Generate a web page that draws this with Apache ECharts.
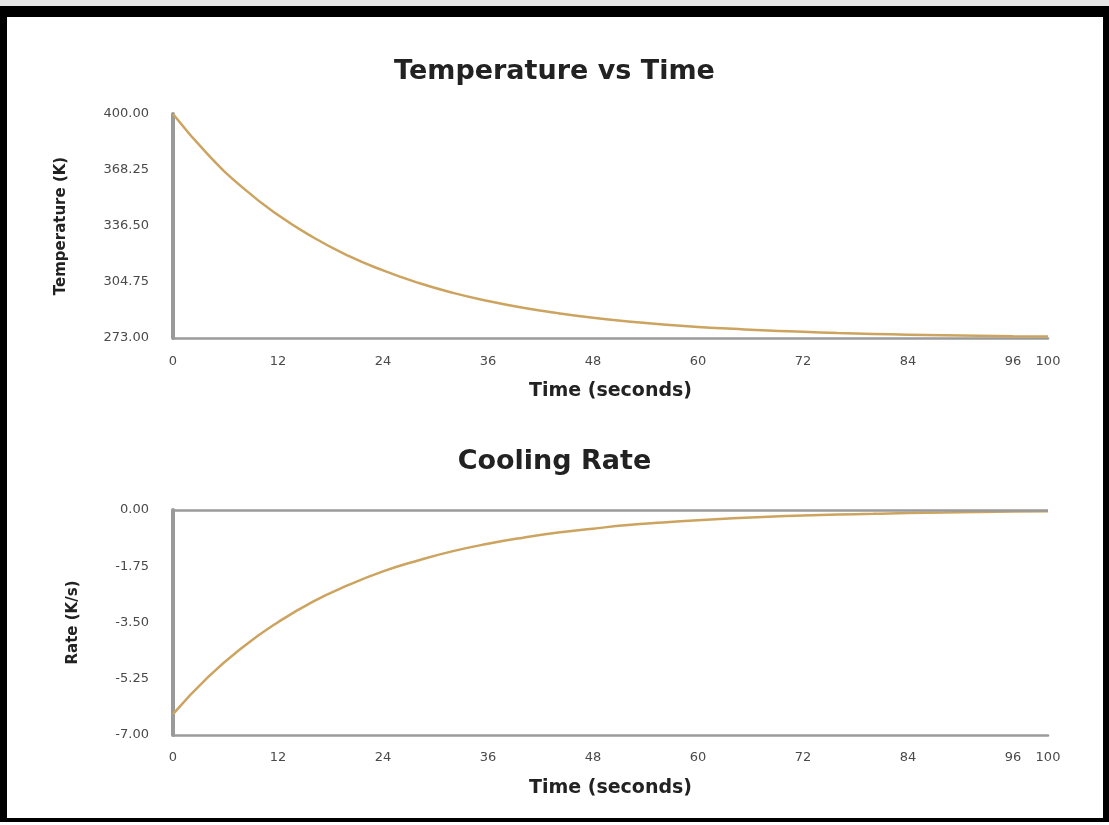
<!DOCTYPE html>
<html>
<head>
<meta charset="utf-8">
<script src="https://cdn.jsdelivr.net/npm/echarts@6/dist/echarts.min.js"></script>
<style>
  html, body { margin: 0; padding: 0; background: #ffffff; }
  #chart { position: absolute; left: 0; top: 0; width: 1109px; height: 825px; }
  #frame { position: absolute; left: 0; top: 6px; width: 1096px; height: 801px;
           border-style: solid; border-color: #000; border-width: 11px 6px 4px 7px; pointer-events: none; }
  #topstrip { position: absolute; left: 0; top: 0; width: 1109px; height: 6px; background: #e6e6e6; }
</style>
</head>
<body>
<div id="chart"></div>
<div id="topstrip"></div>
<div id="frame"></div>
<script>
// ---- data ----
const timeSeconds = [0, 4, 8, 12, 16, 20, 24, 28, 32, 36, 40, 44, 48, 52, 56, 60, 64, 68, 72, 76, 80, 84, 88, 92, 96, 100];
const temperatureK = [400.0, 377.0, 358.1, 342.7, 330.1, 319.7, 311.3, 304.3, 298.6, 294.0, 290.2, 287.1, 284.5, 282.4, 280.7, 279.3, 278.2, 277.2, 276.5, 275.8, 275.3, 274.9, 274.6, 274.3, 274.0, 273.9];
const coolingRate = [-6.35, -5.20, -4.26, -3.49, -2.85, -2.34, -1.91, -1.57, -1.28, -1.05, -0.86, -0.70, -0.58, -0.47, -0.39, -0.32, -0.26, -0.21, -0.17, -0.14, -0.12, -0.09, -0.08, -0.06, -0.05, -0.04];
const timeTicks = [0, 12, 24, 36, 48, 60, 72, 84, 96, 100];
const tempTicks = [273.00, 304.75, 336.50, 368.25, 400.00];
const rateTicks = [-7.00, -5.25, -3.50, -1.75, 0.00];

const FONT = 'DejaVu Sans';
const LINE = '#cca460';
const AXIS = '#9a9a9a';
const LABEL = '#4a4a4a';

function xAxisCfg(gridIndex, labelMargin, nameGap) {
  return {
    type: 'value', gridIndex, min: 0, max: 100,
    name: 'Time (seconds)', nameLocation: 'middle', nameGap,
    nameTextStyle: { fontFamily: FONT, fontWeight: 'bold', fontSize: 19, color: '#222' },
    axisLine: { show: true, onZero: false, lineStyle: { color: AXIS, width: 2.5 } },
    axisTick: { show: false },
    splitLine: { show: false },
    axisLabel: { customValues: timeTicks, margin: labelMargin, fontFamily: FONT, fontSize: 13, color: LABEL }
  };
}
function yAxisCfg(gridIndex, min, max, ticks, name, nameGap) {
  return {
    type: 'value', gridIndex, min, max,
    name, nameLocation: 'middle', nameGap,
    nameTextStyle: { fontFamily: FONT, fontWeight: 'bold', fontSize: 15, color: '#222' },
    axisLine: { show: true, lineStyle: { color: AXIS, width: 4 } },
    axisTick: { show: false },
    splitLine: { show: false },
    axisLabel: { customValues: ticks, margin: 24, fontFamily: FONT, fontSize: 13, color: LABEL,
                 formatter: v => Number(v).toFixed(2) }
  };
}

const chart = echarts.init(document.getElementById('chart'));
chart.setOption({
  animation: false,
  backgroundColor: '#ffffff',
  title: [
    { text: 'Temperature vs Time', left: 'center', top: 58, padding: 0,
      textStyle: { fontFamily: FONT, fontWeight: 'bold', fontSize: 27, color: '#222' } },
    { text: 'Cooling Rate', left: 'center', top: 448, padding: 0,
      textStyle: { fontFamily: FONT, fontWeight: 'bold', fontSize: 27, color: '#222' } }
  ],
  grid: [
    { left: 173, top: 114, width: 875, height: 224 },
    { left: 173, top: 510, width: 875, height: 225 }
  ],
  xAxis: [xAxisCfg(0, 17, 44), xAxisCfg(1, 16, 44)],
  yAxis: [
    yAxisCfg(0, 273, 400, tempTicks, 'Temperature (K)', 104),
    yAxisCfg(1, -7, 0, rateTicks, 'Rate (K/s)', 92)
  ],
  series: [
    { type: 'line', xAxisIndex: 0, yAxisIndex: 0, smooth: true, showSymbol: false,
      lineStyle: { color: LINE, width: 2.5 },
      data: timeSeconds.map((t, i) => [t, temperatureK[i]]) },
    { type: 'line', xAxisIndex: 1, yAxisIndex: 1, smooth: true, showSymbol: false,
      lineStyle: { color: LINE, width: 2.5 },
      data: timeSeconds.map((t, i) => [t, coolingRate[i]]),
      markLine: { silent: true, symbol: 'none', label: { show: false },
                  lineStyle: { color: AXIS, width: 2.5, type: 'solid' },
                  data: [{ yAxis: 0 }] } }
  ]
});
</script>
</body>
</html>
